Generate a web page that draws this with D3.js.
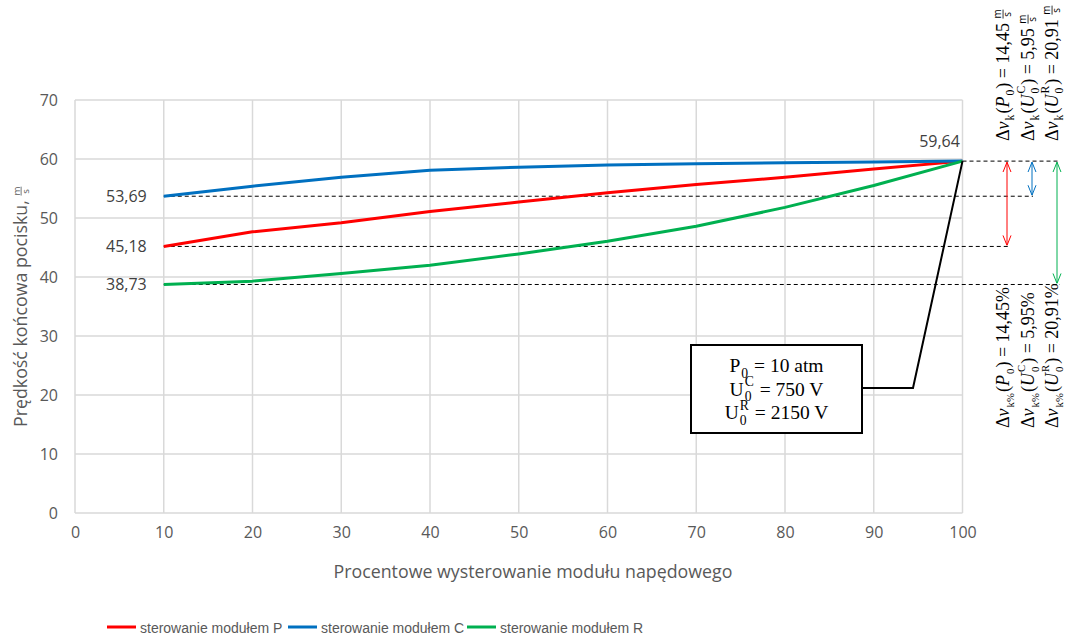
<!DOCTYPE html>
<html>
<head>
<meta charset="utf-8">
<script src="https://cdn.jsdelivr.net/npm/d3@7"></script>
<style>
  body { margin: 0; background: #fff; }
  svg { display: block; }
  svg text { white-space: pre; }
</style>
</head>
<body>
<script>
// data
const xVals = [10, 20, 30, 40, 50, 60, 70, 80, 90, 100];
const seriesP = [45.18, 47.66, 49.2, 51.1, 52.7, 54.27, 55.68, 56.9, 58.3, 59.64];
const seriesC = [53.69, 55.4, 56.9, 58.1, 58.6, 59.0, 59.2, 59.35, 59.5, 59.64];
const seriesR = [38.73, 39.3, 40.6, 42.0, 43.9, 46.07, 48.6, 51.8, 55.5, 59.64];
const seriesNames = ['sterowanie modułem P', 'sterowanie modułem C', 'sterowanie modułem R'];
const xTicks = [0, 10, 20, 30, 40, 50, 60, 70, 80, 90, 100];
const yTicks = [0, 10, 20, 30, 40, 50, 60, 70];
const refLabels = ['53,69', '45,18', '38,73'];
const deltaAbs = ['14,45', '5,95', '20,91'];
const deltaPct = ['14,45%', '5,95%', '20,91%'];

const width = 1065, height = 634;
const colors = ['#ff0000', '#0070c0', '#00b050'];
const labelFont = "'Open Sans', 'Liberation Sans', sans-serif";
const mathFont = "'Liberation Serif', 'DejaVu Serif', serif";

const svg = d3.select('body').append('svg')
    .attr('width', width).attr('height', height);

const defs = svg.append('defs');
colors.forEach((c, i) => {
  defs.append('marker')
      .attr('id', 'arr' + i)
      .attr('viewBox', '0 0 10 10')
      .attr('refX', 10).attr('refY', 5)
      .attr('markerWidth', 10).attr('markerHeight', 10)
      .attr('markerUnits', 'userSpaceOnUse')
      .attr('orient', 'auto-start-reverse')
    .append('path')
      .attr('d', 'M0,1 L10,5 L0,9')
      .attr('fill', 'none')
      .attr('stroke', c)
      .attr('stroke-width', 1);
});

let x = d3.scaleLinear().domain([0, 100]).range([75, 962.5]);
let y = d3.scaleLinear().domain([0, 70]).range([513, 100]);

// grid
const grid = svg.append('g');
grid.selectAll('.vg').data(xTicks).join('line')
    .attr('x1', d => x(d)).attr('x2', d => x(d))
    .attr('y1', y(0)).attr('y2', y(70))
    .attr('stroke', '#d9d9d9').attr('stroke-width', 1.5);
grid.selectAll('.hg').data(yTicks).join('line')
    .attr('x1', x(0)).attr('x2', x(100))
    .attr('y1', d => y(d)).attr('y2', d => y(d))
    .attr('stroke', '#d9d9d9').attr('stroke-width', 1.5);

// axes (labels only)
const xAxis = svg.append('g')
    .attr('transform', `translate(0,${y(0)})`)
    .call(d3.axisBottom(x).tickValues(xTicks).tickSize(0).tickPadding(14));
const yAxis = svg.append('g')
    .attr('transform', `translate(${x(0)},0)`)
    .call(d3.axisLeft(y).tickValues(yTicks).tickSize(0).tickPadding(17));
[xAxis, yAxis].forEach(a => {
  a.select('.domain').remove();
  a.selectAll('text')
      .attr('font-family', labelFont)
      .attr('font-size', 16)
      .attr('fill', '#595959');
});

// reference dashed lines
const endVal = seriesP[seriesP.length - 1];
const dashEnds = [1060, 1033, 1008, 1060];
const dashVals = [endVal, seriesC[0], seriesP[0], seriesR[0]];
const dashStarts = [x(100), x(10), x(10), x(10)];
svg.append('g').selectAll('line').data(dashVals).join('line')
    .attr('x1', (d, i) => dashStarts[i]).attr('x2', (d, i) => dashEnds[i])
    .attr('y1', d => y(d)).attr('y2', d => y(d))
    .attr('stroke', '#000').attr('stroke-width', 1)
    .attr('stroke-dasharray', '4,3');

// series lines
const line = d3.line().x((d, i) => x(xVals[i])).y(d => y(d));
[seriesP, seriesC, seriesR].forEach((s, i) => {
  svg.append('path')
      .datum(s)
      .attr('d', line)
      .attr('fill', 'none')
      .attr('stroke', colors[i])
      .attr('stroke-width', 3)
      .attr('stroke-linejoin', 'round');
});

// data labels
[seriesC[0], seriesP[0], seriesR[0]].forEach((v, i) => {
  svg.append('text')
      .attr('x', x(10) - 17).attr('y', y(v) + 6)
      .attr('text-anchor', 'end')
      .attr('font-family', labelFont).attr('font-size', 16)
      .attr('fill', '#404040')
      .text(refLabels[i]);
});
svg.append('text')
    .attr('x', x(100) - 23).attr('y', y(endVal) - 14)
    .attr('text-anchor', 'middle')
    .attr('font-family', labelFont).attr('font-size', 16)
    .attr('fill', '#404040')
    .text('59,64');

// difference arrows
const arrowX = [1007, 1032, 1057];
[seriesP[0], seriesC[0], seriesR[0]].forEach((v, i) => {
  svg.append('line')
      .attr('x1', arrowX[i]).attr('x2', arrowX[i])
      .attr('y1', y(endVal) + 1).attr('y2', y(v) - 1)
      .attr('stroke', colors[i]).attr('stroke-width', 1)
      .attr('marker-start', `url(#arr${i})`)
      .attr('marker-end', `url(#arr${i})`);
});

// leader line + box
svg.append('path')
    .attr('d', `M${x(100)},${y(endVal)} L913,388 L862,388`)
    .attr('fill', 'none').attr('stroke', '#000').attr('stroke-width', 2);
svg.append('rect')
    .attr('x', 691).attr('y', 345).attr('width', 171).attr('height', 88)
    .attr('fill', '#fff').attr('stroke', '#000').attr('stroke-width', 2);

// small math layout helper: parts = [{t, i, sub, sup}]
function drawMath(g, parts, fs, opts = {}) {
  let cx = 0;
  const fill = opts.fill || '#000';
  const ss = opts.ss || 0.7;
  parts.forEach(p => {
    if (p.t) {
      const t = g.append('text')
          .attr('x', cx).attr('y', 0)
          .attr('font-family', mathFont).attr('font-size', fs)
          .attr('font-style', p.i ? 'italic' : 'normal')
          .attr('fill', fill)
          .text(p.t);
      cx += t.node().getComputedTextLength();
    }
    let w = 0;
    if (p.sub) {
      const s = g.append('text')
          .attr('x', cx + 1).attr('y', fs * 0.3)
          .attr('font-family', mathFont).attr('font-size', fs * ss)
          .attr('fill', fill).text(p.sub);
      w = Math.max(w, s.node().getComputedTextLength() + 2);
    }
    if (p.sup) {
      const s = g.append('text')
          .attr('x', cx + 1).attr('y', -fs * 0.48)
          .attr('font-family', mathFont).attr('font-size', fs * ss)
          .attr('fill', fill).text(p.sup);
      w = Math.max(w, s.node().getComputedTextLength() + 2);
    }
    cx += w;
  });
  return cx;
}

function drawFrac(g, xPos, fs, fill) {
  g.append('text').attr('x', xPos).attr('y', -fs * 0.42)
      .attr('font-family', labelFont).attr('font-size', fs * 0.55)
      .attr('fill', fill).text('m');
  g.append('line')
      .attr('x1', xPos).attr('x2', xPos + fs * 0.5)
      .attr('y1', -fs * 0.33).attr('y2', -fs * 0.33)
      .attr('stroke', fill).attr('stroke-width', 0.8);
  g.append('text').attr('x', xPos + fs * 0.1).attr('y', fs * 0.1)
      .attr('font-family', labelFont).attr('font-size', fs * 0.55)
      .attr('fill', fill).text('s');
}

// box text
const boxLines = [
  [{ t: 'P', sub: '0' }, { t: ' = 10 atm' }],
  [{ t: 'U', sub: '0', sup: 'C' }, { t: ' = 750 V' }],
  [{ t: 'U', sub: '0', sup: 'R' }, { t: ' = 2150 V' }]
];
boxLines.forEach((parts, i) => {
  const g = svg.append('g');
  const w = drawMath(g, parts, 19.5);
  g.attr('transform', `translate(${776.5 - w / 2},${372 + i * 23.5})`);
});

// rotated delta annotations on the right
const subjects = [
  [{ t: '(' }, { t: 'P', i: true, sub: '0' }, { t: ')' }],
  [{ t: '(' }, { t: 'U', i: true, sub: '0', sup: 'C' }, { t: ')' }],
  [{ t: '(' }, { t: 'U', i: true, sub: '0', sup: 'R' }, { t: ')' }]
];
const colX = [1009, 1034, 1058];
subjects.forEach((subj, i) => {
  // top: absolute difference
  const gt = svg.append('g')
      .attr('transform', `translate(${colX[i]},141) rotate(-90)`);
  let w = drawMath(gt, [{ t: 'Δ' }, { t: 'v', i: true, sub: 'k' }]
      .concat(subj).concat([{ t: ' = ' + deltaAbs[i] + ' ' }]), 18, { ss: 0.65 });
  drawFrac(gt, w, 18, '#000');

  // bottom: percentage difference
  const gb = svg.append('g')
      .attr('transform', `translate(${colX[i]},428) rotate(-90)`);
  drawMath(gb, [{ t: 'Δ' }, { t: 'v', i: true, sub: 'k%' }]
      .concat(subj).concat([{ t: ' = ' + deltaPct[i] }]), 18, { ss: 0.6 });
});

// axis titles
svg.append('text')
    .attr('x', 533).attr('y', 578)
    .attr('text-anchor', 'middle')
    .attr('font-family', labelFont).attr('font-size', 17.8)
    .attr('fill', '#595959')
    .text('Procentowe wysterowanie modułu napędowego');

const yt = svg.append('g').attr('transform', 'translate(27,427) rotate(-90)');
const ytText = yt.append('text')
    .attr('x', 0).attr('y', 0)
    .attr('font-family', labelFont).attr('font-size', 17.8)
    .attr('fill', '#595959')
    .text('Prędkość końcowa pocisku, ');
drawFrac(yt, ytText.node().getComputedTextLength(), 17.8, '#595959');

// legend
const legX = [107, 288, 467];
seriesNames.forEach((name, i) => {
  const g = svg.append('g').attr('transform', `translate(${legX[i]},627)`);
  g.append('line').attr('x1', 0).attr('x2', 29).attr('y1', 0).attr('y2', 0)
      .attr('stroke', colors[i]).attr('stroke-width', 3);
  g.append('text').attr('x', 33).attr('y', 5.5)
      .attr('font-family', "'Liberation Sans', sans-serif").attr('font-size', 14)
      .attr('fill', '#595959')
      .text(name);
});
</script>
</body>
</html>
